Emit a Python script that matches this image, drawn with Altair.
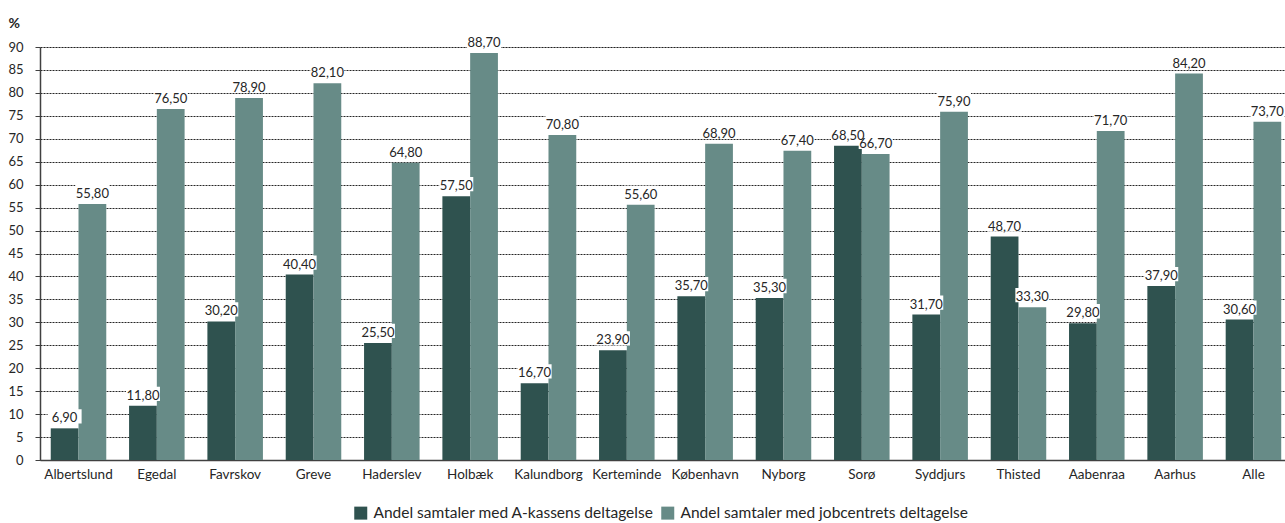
import altair as alt
import pandas as pd

categories = ["Albertslund", "Egedal", "Favrskov", "Greve", "Haderslev", "Holbæk",
              "Kalundborg", "Kerteminde", "København", "Nyborg", "Sorø", "Syddjurs",
              "Thisted", "Aabenraa", "Aarhus", "Alle"]
series_names = ["Andel samtaler med A-kassens deltagelse",
                "Andel samtaler med jobcentrets deltagelse"]
akasse = [6.9, 11.8, 30.2, 40.4, 25.5, 57.5, 16.7, 23.9, 35.7, 35.3, 68.5, 31.7, 48.7, 29.8, 37.9, 30.6]
jobcenter = [55.8, 76.5, 78.9, 82.1, 64.8, 88.7, 70.8, 55.6, 68.9, 67.4, 66.7, 75.9, 33.3, 71.7, 84.2, 73.7]
y_ticks = list(range(0, 95, 5))
colors = ["#2F524F", "#678B87"]

rows = []
for i, c in enumerate(categories):
    for name, vals in zip(series_names, [akasse, jobcenter]):
        v = vals[i]
        rows.append({"kommune": c, "serie": name, "value": v,
                     "label": f"{v:.2f}".replace(".", ",")})
df = pd.DataFrame(rows)

FONT = "Lato"
TXT = "#262626"

x_enc = alt.X("kommune:N", sort=categories,
              scale=alt.Scale(paddingInner=0.291, paddingOuter=0.0926, align=0.74),
              axis=alt.Axis(title=None, labelAngle=0, ticks=False, labelPadding=7,
                            labelFontSize=13.5, labelFont=FONT, labelColor=TXT,
                            domainColor="#404040", domainWidth=1.5, grid=False))
xoff = alt.XOffset("serie:N", sort=series_names, scale=alt.Scale(paddingInner=0, paddingOuter=0))
y_enc = alt.Y("value:Q", scale=alt.Scale(domain=[0, 90], nice=False),
              axis=alt.Axis(title="%", titleAngle=0, titleAlign="left", titleBaseline="alphabetic",
                            titleX=-32, titleY=-20, titleFontSize=14, titleFont=FONT,
                            titleFontWeight="bold", titleColor=TXT,
                            values=y_ticks, labelOverlap=False,
                            labelFontSize=13, labelFont=FONT, labelColor=TXT,
                            labelPadding=12, tickSize=5, tickColor="#404040",
                            domainColor="#404040", domainWidth=1.5,
                            grid=True, gridColor="#000000", gridDash=[2, 1], gridWidth=1,
                            gridOpacity=0.85))

base = alt.Chart(df)

bars = base.mark_bar().encode(
    x=x_enc, xOffset=xoff, y=y_enc,
    color=alt.Color("serie:N", sort=series_names,
                    scale=alt.Scale(domain=series_names, range=colors),
                    legend=alt.Legend(title=None, orient="none", legendX=313, legendY=458,
                                      direction="horizontal", symbolType="square",
                                      symbolSize=169, symbolStrokeWidth=0,
                                      labelFontSize=15.5, labelFont=FONT, labelColor=TXT,
                                      labelLimit=500, labelOffset=5, columnPadding=6,
                                      padding=0))
)

boxes = base.mark_point(shape="M-1,-0.42H1V0.42H-1Z", size=1156, filled=True,
                        fill="white", opacity=1, strokeWidth=0, yOffset=-12).encode(
    x=x_enc, xOffset=xoff, y=y_enc
)

labels = base.mark_text(font=FONT, fontSize=13, color=TXT, baseline="alphabetic",
                        align="center", dy=-6).encode(
    x=x_enc, xOffset=xoff, y=y_enc, text="label:N"
)

chart = alt.layer(bars, boxes, labels).properties(
    width=1245, height=413,
    autosize=alt.AutoSizeParams(type="none"),
    padding={"left": 40, "top": 47, "right": 0, "bottom": 63},
).configure_view(stroke=None).configure(background="white")

chart.save("out.html", embed_options={"renderer": "svg", "actions": False})
